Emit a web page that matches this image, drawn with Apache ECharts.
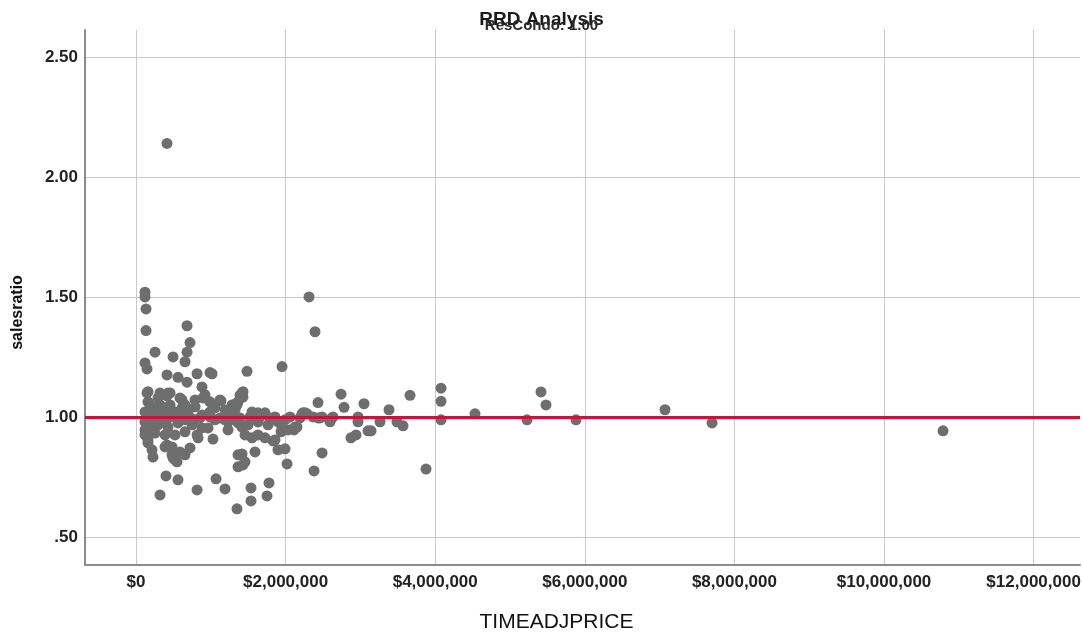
<!DOCTYPE html>
<html>
<head>
<meta charset="utf-8">
<title>RRD Analysis</title>
<script src="https://cdn.jsdelivr.net/npm/echarts@6/dist/echarts.min.js"></script>
<style>
  html, body { margin: 0; padding: 0; background: #fff; }
  #chart { width: 1083px; height: 635px; }
</style>
</head>
<body>
<div id="chart"></div>
<script>
// ticks shown on the axes
const xTicks = [0, 2000000, 4000000, 6000000, 8000000, 10000000, 12000000]
const yTicks = [0.5, 1.0, 1.5, 2.0, 2.5]

// reference line (ratio = 1)
const refRatio = 1.0

// TIMEADJPRICE of each sale
const prices = [
  414000, 120000, 120000, 134000, 134000, 682000, 722000, 682000, 254000, 495000,
  655000, 120000, 147000, 414000, 561000, 682000, 816000, 989000, 1016000, 882000,
  160000, 428000, 1484000, 1952000, 2313000, 2393000, 2741000, 3663000, 4078000, 4078000,
  2433000, 2781000, 3048000, 3382000, 1337000, 1430000, 1390000, 2219000, 2286000, 2460000,
  2594000, 2634000, 2968000, 2968000, 3262000, 3489000, 3570000, 4078000, 4532000, 2099000,
  2152000, 1939000, 1832000, 2874000, 2941000, 3102000, 3142000, 1898000, 1992000, 1591000,
  1417000, 1430000, 1364000, 2019000, 2487000, 2380000, 3877000, 1537000, 1778000, 1751000,
  1537000, 1350000, 5227000, 5414000, 5481000, 5882000, 7072000, 7701000, 10789000, 120000,
  160000, 214000, 227000, 414000, 495000, 521000, 655000, 829000, 1029000, 1230000,
  1417000, 1551000, 2112000, 401000, 561000, 321000, 816000, 1070000, 1190000, 495000,
  548000, 414000, 455000, 615000, 922000, 1136000, 1350000, 1417000, 789000, 989000,
  1631000, 1858000, 1992000, 2259000, 2433000, 2620000, 160000, 294000, 588000, 615000,
  896000, 1123000, 120000, 254000, 388000, 521000, 695000, 882000, 120000, 187000,
  294000, 428000, 561000, 749000, 882000, 120000, 254000, 388000, 521000, 655000,
  816000, 963000, 160000, 388000, 481000, 481000, 588000, 722000, 1430000, 1364000,
  1283000, 1324000, 1551000, 1725000, 1230000, 1364000, 1497000, 1631000, 1765000, 1898000,
  1952000, 2032000, 2126000, 2233000, 2366000, 2487000, 1457000, 1631000, 1725000, 1858000,
  1364000, 1457000, 187000, 321000, 455000, 588000, 722000, 856000, 989000, 1123000,
  1257000, 1390000, 1524000, 1658000, 1791000, 2059000, 2193000, 254000, 388000, 655000,
  789000, 1056000, 1190000, 1324000, 187000, 321000, 455000, 655000, 789000, 989000,
  1056000, 1190000, 321000, 147000
]

// salesratio of each sale, same order as prices
const ratios = [
  2.14, 1.52, 1.50, 1.45, 1.36, 1.38, 1.31, 1.27, 1.27, 1.25,
  1.23, 1.225, 1.20, 1.175, 1.165, 1.145, 1.18, 1.185, 1.18, 1.125,
  1.105, 1.10, 1.19, 1.21, 1.50, 1.355, 1.095, 1.09, 1.12, 1.065,
  1.06, 1.04, 1.055, 1.03, 1.055, 1.105, 1.09, 1.013, 1.013, 0.996,
  0.98, 1.00, 1.00, 0.98, 0.98, 0.98, 0.963, 0.988, 1.013, 0.95,
  0.958, 0.938, 0.90, 0.913, 0.925, 0.942, 0.942, 0.863, 0.867, 0.854,
  0.846, 0.80, 0.792, 0.804, 0.85, 0.775, 0.783, 0.704, 0.725, 0.671,
  0.65, 0.617, 0.988, 1.104, 1.05, 0.988, 1.03, 0.975, 0.942, 0.946,
  0.904, 0.863, 0.833, 0.883, 0.854, 0.821, 0.842, 0.913, 0.908, 0.946,
  0.958, 0.913, 0.946, 0.754, 0.738, 0.675, 0.696, 0.742, 0.70, 0.829,
  0.813, 1.088, 1.10, 1.071, 1.092, 1.067, 1.05, 1.10, 1.042, 1.021,
  1.017, 1.00, 0.988, 1.017, 0.996, 0.996, 1.063, 1.079, 1.079, 1.038,
  1.079, 1.071, 1.021, 1.021, 1.021, 1.021, 1.017, 1.008, 0.979, 0.954,
  0.967, 0.958, 0.975, 0.967, 0.954, 0.925, 0.933, 0.925, 0.925, 0.938,
  0.925, 0.954, 0.892, 0.875, 0.875, 0.842, 0.854, 0.871, 1.083, 1.063,
  1.05, 1.029, 1.021, 1.017, 0.979, 0.975, 0.967, 0.979, 0.967, 0.979,
  0.954, 0.946, 0.958, 1.017, 1.00, 1.00, 0.925, 0.925, 0.913, 0.904,
  0.842, 0.813, 1.00, 0.996, 1.00, 1.00, 0.996, 0.996, 1.00, 0.996,
  1.00, 0.996, 1.00, 1.00, 0.996, 1.00, 0.996, 0.988, 0.983, 0.988,
  0.988, 0.988, 0.988, 0.988, 1.05, 1.05, 1.05, 1.05, 1.071, 1.063,
  1.038, 1.029, 1.10, 1.10
]

const points = prices.map((p, i) => [p, ratios[i]])

const fmtMoney = (v) => '$' + Math.round(v).toLocaleString('en-US')
const fmtRatio = (v) => v.toFixed(2).replace(/^0/, '')

const chart = echarts.init(document.getElementById('chart'))

const option = {
  animation: false,
  backgroundColor: '#fff',
  title: [
    {
      text: 'RRD Analysis',
      left: 'center',
      top: 5,
      textStyle: { fontFamily: 'Liberation Sans, Arial', fontSize: 19, fontWeight: 'bold', color: '#1a1a1a' },
    },
    {
      text: 'ResCondo: 1.00',
      left: 'center',
      top: 13,
      textStyle: { fontFamily: 'Liberation Sans, Arial', fontSize: 15, fontWeight: 'bold', color: '#2a2a2a' },
    },
  ],
  grid: { left: 85, right: 3, top: 30, bottom: 70, containLabel: false, outerBoundsMode: 'none' },
  xAxis: {
    type: 'value',
    min: -682000,
    max: 12620000,
    name: 'TIMEADJPRICE',
    nameLocation: 'middle',
    nameGap: 57,
    nameMoveOverlap: false,
    nameTextStyle: {
      fontFamily: 'Liberation Sans, Arial',
      fontSize: 21,
      color: '#111',
      verticalAlign: 'middle',
      padding: [0, 52, 0, 0],
    },
    axisLine: { show: true, onZero: false, lineStyle: { color: '#8c8c8c', width: 2 } },
    axisTick: { show: false, customValues: xTicks },
    axisLabel: {
      customValues: xTicks,
      formatter: fmtMoney,
      margin: 9,
      fontFamily: 'Liberation Sans, Arial',
      fontSize: 17,
      fontWeight: 'bold',
      color: '#222',
    },
    splitLine: { show: true, lineStyle: { color: '#c9c9c9', width: 1 } },
  },
  yAxis: {
    type: 'value',
    min: 0.383,
    max: 2.6125,
    name: 'salesratio',
    nameLocation: 'middle',
    nameGap: 67,
    nameTextStyle: {
      fontFamily: 'Liberation Sans, Arial',
      fontSize: 16,
      fontWeight: 'bold',
      color: '#111',
      verticalAlign: 'middle',
      padding: [0, 30, 0, 0],
    },
    axisLine: { show: true, onZero: false, lineStyle: { color: '#8c8c8c', width: 2 } },
    axisTick: { show: false, customValues: yTicks },
    axisLabel: {
      customValues: yTicks,
      formatter: fmtRatio,
      margin: 7,
      fontFamily: 'Liberation Sans, Arial',
      fontSize: 17,
      fontWeight: 'bold',
      color: '#222',
    },
    splitLine: { show: true, lineStyle: { color: '#c9c9c9', width: 1 } },
  },
  series: [
    {
      type: 'scatter',
      data: points,
      symbolSize: 11,
      itemStyle: { color: '#6e6e6e', opacity: 1 },
      markLine: {
        silent: true,
        symbol: 'none',
        label: { show: false },
        lineStyle: { color: '#c8143c', width: 3, type: 'solid' },
        data: [{ yAxis: refRatio }],
      },
    },
  ],
}

chart.setOption(option)
</script>
</body>
</html>
